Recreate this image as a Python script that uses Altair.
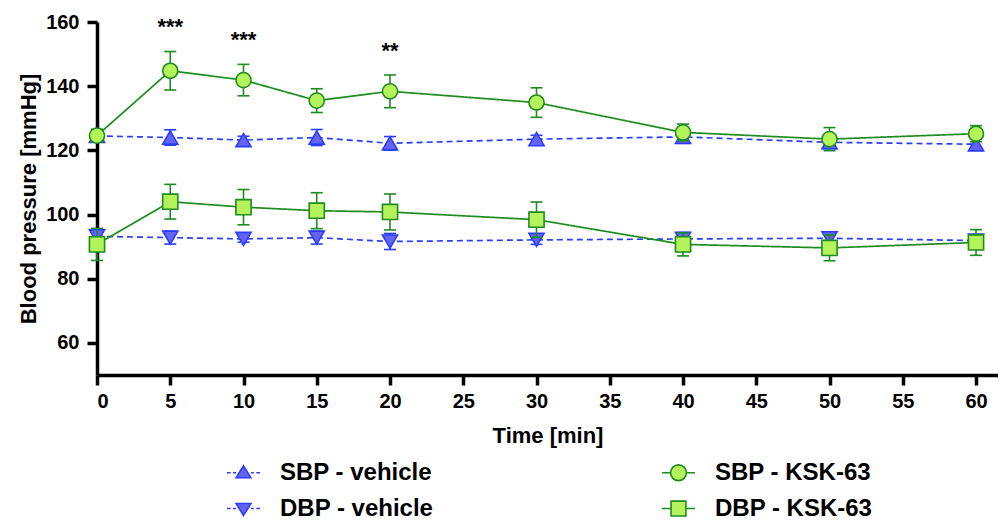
import altair as alt
import pandas as pd

# ---------------- data ----------------
times = [0, 5, 10, 15, 20, 30, 40, 50, 60]
series_names = ["SBP - vehicle", "DBP - vehicle", "SBP - KSK-63", "DBP - KSK-63"]

sbp_vehicle = [124.5, 124.0, 123.2, 124.0, 122.2, 123.5, 124.2, 122.5, 121.9]
sbp_vehicle_sem = [1.5, 2.4, 1.2, 2.5, 2.1, 1.2, 2.0, 1.8, 1.8]
sbp_ksk = [124.6, 144.8, 141.9, 135.5, 138.4, 134.9, 125.6, 123.5, 125.2]
sbp_ksk_sem = [2.0, 6.0, 4.9, 3.7, 5.1, 4.6, 2.6, 3.6, 2.5]
dbp_vehicle = [93.2, 92.8, 92.4, 92.8, 91.6, 92.1, 92.4, 92.6, 91.9]
dbp_vehicle_sem = [2.2, 2.0, 1.0, 2.0, 2.5, 1.4, 2.0, 1.8, 1.0]
dbp_ksk = [90.7, 104.0, 102.3, 101.2, 100.8, 98.4, 90.7, 89.6, 91.3]
dbp_ksk_sem = [5.0, 5.4, 5.5, 5.6, 5.6, 5.5, 3.6, 4.0, 4.0]

sig_times = [5, 10, 20]
sig_labels = ["***", "***", "**"]

x_ticks = [0, 5, 10, 15, 20, 25, 30, 35, 40, 45, 50, 55, 60]
y_ticks = [60, 80, 100, 120, 140, 160]

# ---------------- tables ----------------
rows = []
for name, vals, sems, grp in [
    ("SBP - vehicle", sbp_vehicle, sbp_vehicle_sem, "vehicle"),
    ("DBP - vehicle", dbp_vehicle, dbp_vehicle_sem, "vehicle"),
    ("SBP - KSK-63", sbp_ksk, sbp_ksk_sem, "ksk"),
    ("DBP - KSK-63", dbp_ksk, dbp_ksk_sem, "ksk"),
]:
    for t, v, s in zip(times, vals, sems):
        rows.append({"time": t, "value": v, "sem": s, "series": name, "group": grp})
df = pd.DataFrame(rows)

sig_rows = []
for t, lab in zip(sig_times, sig_labels):
    i = times.index(t)
    sig_rows.append({"time": t, "label": lab, "hi": sbp_ksk[i] + sbp_ksk_sem[i]})
df_sig = pd.DataFrame(sig_rows)

# ---------------- styling ----------------
FONT = "Liberation Sans"
dark = ["#2a3dff", "#2a3dff", "#1e8c1e", "#1e8c1e"]
light = ["#6464f0", "#6464f0", "#b4f35c", "#b4f35c"]
dashes = [[6, 4], [6, 4], [1, 0], [1, 0]]
shapes = ["triangle-up", "triangle-down", "circle", "square"]

# legend symbols: marker with a short (dashed / solid) line through it
tri_up = "M0,-0.42L0.45,0.3L-0.45,0.3Z"
tri_dn = "M0,0.42L0.45,-0.3L-0.45,-0.3Z"
dash_line = "M-1,0H-0.78M-0.63,0H-0.45M0.45,0H0.63M0.78,0H1"
circ = "M0.48,0A0.48,0.48 0 1,1 -0.48,0A0.48,0.48 0 1,1 0.48,0Z"
sq = "M-0.45,-0.45H0.45V0.45H-0.45Z"
solid_line = "M-1,0H-0.48M0.48,0H1"
legend_shapes = [
    dash_line + tri_up,
    dash_line + tri_dn,
    solid_line + circ,
    "M-1,0H-0.45M0.45,0H1" + sq,
]

X = alt.X(
    "time:Q",
    scale=alt.Scale(domain=[0, 61.5], nice=False, zero=False),
    axis=alt.Axis(
        values=x_ticks, title="Time [min]", grid=False,
        domainWidth=3.5, tickWidth=3.5, tickSize=10,
        labelFontSize=20, labelFontWeight="bold", labelPadding=6,
        titleFontSize=22, titleFontWeight="bold", titlePadding=14,
    ),
)


def Y(field):
    return alt.Y(
        field,
        scale=alt.Scale(domain=[50, 160], nice=False, zero=False),
        axis=alt.Axis(
            values=y_ticks, title="Blood pressure [mmHg]", grid=False,
            domainWidth=3.5, tickWidth=3.5, tickSize=10,
            labelFontSize=20, labelFontWeight="bold", labelPadding=8,
            titleFontSize=22, titleFontWeight="bold", titlePadding=5,
        ),
    )


def dark_color():
    return alt.Color("series:N", scale=alt.Scale(domain=series_names, range=dark), legend=None)


def group_layers(grp):
    base = alt.Chart(df).transform_filter(alt.datum.group == grp).transform_calculate(
        lo="datum.value - datum.sem", hi="datum.value + datum.sem"
    )
    rules = base.mark_rule(strokeWidth=1.6).encode(
        x=X, y=Y("lo:Q"), y2=alt.Y2("hi:Q"), color=dark_color()
    )
    cap_hi = base.mark_tick(orient="horizontal", size=12, thickness=1.6, opacity=1).encode(
        x=X, y=Y("hi:Q"), color=dark_color()
    )
    cap_lo = base.mark_tick(orient="horizontal", size=12, thickness=1.6, opacity=1).encode(
        x=X, y=Y("lo:Q"), color=dark_color()
    )
    line = base.mark_line(strokeWidth=1.7).encode(
        x=X, y=Y("value:Q"), color=dark_color(),
        strokeDash=alt.StrokeDash("series:N", scale=alt.Scale(domain=series_names, range=dashes), legend=None),
    )
    pts = base.mark_point(filled=True, opacity=1, size=230, strokeWidth=1.6).encode(
        x=X, y=Y("value:Q"),
        fill=alt.Fill("series:N", scale=alt.Scale(domain=series_names, range=light), legend=None),
        stroke=alt.Stroke("series:N", scale=alt.Scale(domain=series_names, range=dark), legend=None),
        shape=alt.Shape("series:N", scale=alt.Scale(domain=series_names, range=shapes), legend=None),
    )
    return [rules, cap_hi, cap_lo, line, pts]


leg = alt.Legend(
    title=None, orient="none", legendX=129, legendY=433, columns=2,
    columnPadding=224, rowPadding=6, padding=0,
    labelFont=FONT, labelFontSize=24, labelFontWeight="bold", labelColor="black",
    labelLimit=400, labelOffset=19, symbolSize=1089, symbolStrokeWidth=1.6,
    symbolOpacity=1,
)

legend_layer = alt.Chart(df).transform_filter("datum.time < -100").mark_point(
    filled=True, opacity=1, size=1089, strokeWidth=1.6
).encode(
    x=X, y=Y("value:Q"),
    fill=alt.Fill("series:N", scale=alt.Scale(domain=series_names, range=light), legend=leg),
    stroke=alt.Stroke("series:N", scale=alt.Scale(domain=series_names, range=dark), legend=leg),
    shape=alt.Shape("series:N", scale=alt.Scale(domain=series_names, range=legend_shapes), legend=leg),
)

stars = alt.Chart(df_sig).transform_calculate(star_y="datum.hi + 7.5").mark_text(
    font=FONT, fontSize=22, fontWeight="bold", color="black", baseline="middle", align="center"
).encode(x=X, y=Y("star_y:Q"), text="label:N")

layers = group_layers("vehicle") + group_layers("ksk") + [stars, legend_layer]

chart = (
    alt.layer(*layers)
    .resolve_scale(fill="independent", stroke="independent", shape="independent")
    .properties(
        width=901, height=353,
        padding={"left": 89, "top": 14, "right": 0, "bottom": 152},
        autosize=alt.AutoSizeParams(type="none"),
    )
    .configure_view(stroke=None)
    .configure_axis(
        labelFont=FONT, titleFont=FONT, labelColor="black", titleColor="black",
        domainColor="black", tickColor="black",
    )
)

chart.save("out.html", embed_options={"renderer": "svg", "actions": False})
